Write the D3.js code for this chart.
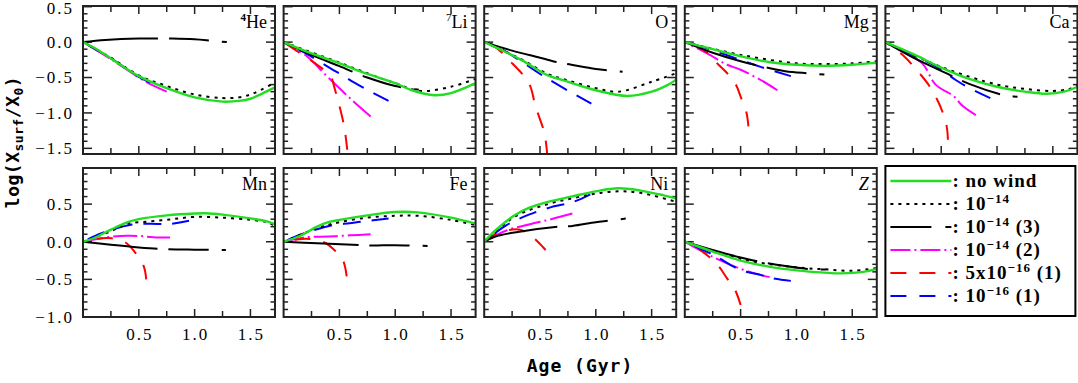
<!DOCTYPE html>
<html lang="en">
<head>
<meta charset="UTF-8">
<title>Surface abundances vs age</title>
<style>
  body { margin: 0; background: #fff; }
  svg { display: block; }
  .tick-label { font-family: "Liberation Serif", serif; font-size: 17px; letter-spacing: 2px; fill: #000; }
  .panel-label { font-family: "Liberation Serif", serif; font-size: 18px; fill: #000; }
  .axis-title { font-family: "DejaVu Sans Mono", monospace; font-weight: bold; font-size: 18px; fill: #000; }
  .legend-text { font-family: "Liberation Serif", serif; font-weight: bold; font-size: 19px; letter-spacing: 1px; fill: #000; }
  .frame { fill: none; stroke: #222; stroke-width: 2; }
</style>
</head>
<body>
<svg id="chart" width="1078" height="383"></svg>
<script src="https://cdnjs.cloudflare.com/ajax/libs/d3/7.9.0/d3.min.js"></script>
<script>
// tick values
const ageTicks = [0.5, 1.0, 1.5];
const ageMinor = [0.25, 0.5, 0.75, 1.0, 1.25, 1.5];
const topYTicks = [0.5, 0.0, -0.5, -1.0, -1.5];
const bottomYTicks = [0.5, 0.0, -0.5, -1.0];

// series keys, in drawing order
const seriesKeys = ["w14_2", "w16x5_1", "w16_1", "w14_3", "w14", "noWind"];

// [age (Gyr), log(Xsurf/X0)]
const He4 = {
  noWind: [[0,0],[0.1,-0.08],[0.25,-0.23],[0.5,-0.48],[0.75,-0.65],[1.0,-0.78],[1.25,-0.84],[1.4,-0.83],[1.5,-0.8],[1.6,-0.73],[1.72,-0.64]],
  w14: [[0,0],[0.25,-0.22],[0.5,-0.47],[0.75,-0.62],[1.0,-0.74],[1.25,-0.79],[1.4,-0.78],[1.5,-0.74],[1.6,-0.67],[1.72,-0.57]],
  w14_3: [[0,0],[0.2,0.03],[0.5,0.05],[0.8,0.05],[1.0,0.04],[1.15,0.02],[1.29,0.0]],
  w14_2: [[0,0],[0.25,-0.24],[0.5,-0.5],[0.65,-0.63],[0.75,-0.7]],
  w16_1: [[0,0],[0.25,-0.23],[0.5,-0.49],[0.6,-0.57]]
};
const Li7 = {
  noWind: [[0,0],[0.25,-0.16],[0.5,-0.3],[0.75,-0.45],[1.0,-0.58],[1.15,-0.68],[1.35,-0.75],[1.5,-0.72],[1.72,-0.58]],
  w14: [[0,0],[0.5,-0.29],[0.75,-0.44],[1.0,-0.58],[1.23,-0.69],[1.5,-0.63],[1.72,-0.52]],
  w14_3: [[0,0],[0.25,-0.18],[0.5,-0.34],[0.75,-0.5],[1.0,-0.62],[1.2,-0.67],[1.3,-0.68]],
  w14_2: [[0,0],[0.2,-0.19],[0.4,-0.5],[0.6,-0.8],[0.78,-1.05]],
  w16x5_1: [[0,0],[0.17,-0.18],[0.3,-0.32],[0.42,-0.48],[0.46,-0.67],[0.54,-1.17],[0.57,-1.52]],
  w16_1: [[0,0],[0.2,-0.16],[0.42,-0.37],[0.54,-0.48],[0.63,-0.57],[0.94,-0.83]]
};
const O16 = {
  noWind: [[0,0],[0.33,-0.25],[0.57,-0.47],[0.69,-0.53],[1.0,-0.68],[1.28,-0.76],[1.5,-0.7],[1.65,-0.6],[1.72,-0.53]],
  w14: [[0,0],[0.33,-0.24],[0.57,-0.45],[0.75,-0.54],[1.0,-0.65],[1.2,-0.7],[1.5,-0.56],[1.72,-0.44]],
  w14_3: [[0,0],[0.25,-0.12],[0.5,-0.22],[0.67,-0.29],[0.78,-0.32],[1.0,-0.38],[1.24,-0.42]],
  w16x5_1: [[0,0],[0.1,-0.07],[0.22,-0.25],[0.4,-0.58],[0.46,-0.91],[0.54,-1.29],[0.565,-1.6]],
  w16_1: [[0,0],[0.1,-0.05],[0.3,-0.24],[0.5,-0.45],[0.7,-0.64],[0.96,-0.87]]
};
const Mg = {
  noWind: [[0,0],[0.25,-0.1],[0.5,-0.2],[0.75,-0.28],[1.0,-0.32],[1.25,-0.335],[1.5,-0.32],[1.72,-0.29]],
  w14: [[0,0],[0.5,-0.18],[1.0,-0.3],[1.25,-0.31],[1.5,-0.3],[1.72,-0.27]],
  w14_3: [[0,0],[0.25,-0.15],[0.5,-0.27],[0.68,-0.34],[0.9,-0.41],[1.1,-0.44],[1.27,-0.46]],
  w14_2: [[0,0],[0.2,-0.16],[0.38,-0.32],[0.5,-0.39],[0.68,-0.535],[0.83,-0.68]],
  w16x5_1: [[0,0],[0.1,-0.05],[0.2,-0.15],[0.29,-0.3],[0.38,-0.44],[0.46,-0.61],[0.5,-0.77],[0.55,-0.98],[0.57,-1.19]],
  w16_1: [[0,0],[0.2,-0.09],[0.46,-0.23],[0.68,-0.35],[0.95,-0.48]]
};
const Ca = {
  noWind: [[0,0],[0.25,-0.17],[0.5,-0.36],[0.75,-0.52],[1.0,-0.63],[1.25,-0.7],[1.45,-0.73],[1.6,-0.7],[1.72,-0.63]],
  w14: [[0,0],[0.5,-0.35],[1.0,-0.6],[1.25,-0.66],[1.5,-0.69],[1.65,-0.66],[1.72,-0.6]],
  w14_3: [[0,0],[0.25,-0.22],[0.58,-0.465],[0.75,-0.59],[1.08,-0.756],[1.18,-0.77],[1.27,-0.79]],
  w14_2: [[0,0],[0.15,-0.13],[0.33,-0.3],[0.45,-0.6],[0.61,-0.76],[0.69,-0.9],[0.81,-1.03]],
  w16x5_1: [[0,0],[0.16,-0.19],[0.3,-0.43],[0.39,-0.61],[0.46,-0.8],[0.51,-0.98],[0.55,-1.2],[0.56,-1.38]],
  w16_1: [[0,0],[0.12,-0.09],[0.46,-0.35],[0.63,-0.535],[0.73,-0.63],[0.94,-0.79]]
};
const Mn = {
  noWind: [[0,0],[0.1,0.05],[0.25,0.16],[0.4,0.26],[0.5,0.3],[0.75,0.35],[1.0,0.375],[1.1,0.378],[1.25,0.36],[1.5,0.31],[1.65,0.27],[1.72,0.23]],
  w14: [[0,0],[0.25,0.14],[0.4,0.24],[0.6,0.27],[0.8,0.3],[1.0,0.33],[1.25,0.32],[1.5,0.29],[1.65,0.26],[1.72,0.21]],
  w14_3: [[0,0],[0.25,-0.04],[0.5,-0.075],[0.7,-0.095],[1.0,-0.105],[1.28,-0.11]],
  w14_2: [[0,0],[0.1,0.03],[0.25,0.065],[0.4,0.08],[0.52,0.075],[0.63,0.06],[0.78,0.055]],
  w16x5_1: [[0,0],[0.12,0.04],[0.26,0.045],[0.38,-0.01],[0.46,-0.13],[0.545,-0.33],[0.566,-0.5]],
  w16_1: [[0,0],[0.16,0.11],[0.44,0.23],[0.6,0.24],[0.77,0.235],[0.95,0.28]]
};
const Fe = {
  noWind: [[0,0],[0.15,0.08],[0.3,0.2],[0.4,0.26],[0.5,0.29],[0.75,0.35],[1.0,0.395],[1.2,0.39],[1.5,0.32],[1.72,0.24]],
  w14: [[0,0],[0.3,0.18],[0.5,0.26],[0.75,0.32],[1.0,0.345],[1.2,0.345],[1.5,0.29],[1.72,0.22]],
  w14_3: [[0,0],[0.3,-0.02],[0.69,-0.045],[0.8,-0.05],[1.0,-0.045],[1.29,-0.055]],
  w14_2: [[0,0],[0.2,0.06],[0.4,0.07],[0.6,0.085],[0.78,0.1]],
  w16x5_1: [[0,0],[0.12,0.03],[0.2,0.04],[0.3,0.02],[0.38,-0.02],[0.44,-0.09],[0.53,-0.24],[0.565,-0.46]],
  w16_1: [[0,0],[0.2,0.12],[0.44,0.22],[0.59,0.245],[0.69,0.265],[0.94,0.31]]
};
const Ni = {
  noWind: [[0,0],[0.1,0.15],[0.27,0.35],[0.4,0.45],[0.57,0.53],[0.78,0.6],[1.0,0.67],[1.2,0.71],[1.4,0.68],[1.6,0.62],[1.72,0.575]],
  w14: [[0,0],[0.27,0.33],[0.57,0.5],[0.8,0.58],[1.0,0.64],[1.2,0.67],[1.4,0.65],[1.72,0.53]],
  w14_3: [[0,0],[0.1,0.07],[0.3,0.13],[0.67,0.2],[0.79,0.21],[1.0,0.26],[1.12,0.28],[1.28,0.31]],
  w14_2: [[0,0],[0.2,0.15],[0.4,0.23],[0.6,0.3],[0.79,0.375]],
  w16x5_1: [[0,0],[0.1,0.1],[0.2,0.15],[0.32,0.16],[0.4,0.1],[0.48,0.0],[0.55,-0.11]],
  w16_1: [[0,0],[0.2,0.22],[0.4,0.36],[0.6,0.46],[0.8,0.53],[0.95,0.63]]
};
const Zmet = {
  noWind: [[0,0],[0.25,-0.13],[0.5,-0.25],[0.75,-0.33],[1.0,-0.38],[1.25,-0.41],[1.4,-0.42],[1.6,-0.4],[1.72,-0.36]],
  w14: [[0,0],[0.5,-0.23],[1.0,-0.34],[1.25,-0.366],[1.5,-0.385],[1.72,-0.35]],
  w14_3: [[0,0],[0.25,-0.11],[0.5,-0.21],[0.665,-0.265],[0.8,-0.3],[1.13,-0.365],[1.3,-0.37]],
  w14_2: [[0,0],[0.25,-0.2],[0.5,-0.36],[0.7,-0.45],[0.76,-0.47]],
  w16x5_1: [[0,0],[0.1,-0.07],[0.2,-0.18],[0.3,-0.32],[0.38,-0.49],[0.45,-0.64],[0.5,-0.84]],
  w16_1: [[0,0],[0.25,-0.17],[0.5,-0.375],[0.68,-0.44],[0.77,-0.48],[0.95,-0.52]]
};

const panels = [
  { sup: "4", name: "He", data: He4 },
  { sup: "7", name: "Li", data: Li7 },
  { sup: "", name: "O", data: O16 },
  { sup: "", name: "Mg", data: Mg },
  { sup: "", name: "Ca", data: Ca },
  { sup: "", name: "Mn", data: Mn },
  { sup: "", name: "Fe", data: Fe },
  { sup: "", name: "Ni", data: Ni },
  { sup: "", name: "Z", data: Zmet, italic: true }
];

const legendKeys = ["noWind", "w14", "w14_3", "w14_2", "w16x5_1", "w16_1"];
const legendLabels = [
  [["no wind", 0]],
  [["10", 0], ["−14", 1]],
  [["10", 0], ["−14", 1], [" (3)", 0]],
  [["10", 0], ["−14", 1], [" (2)", 0]],
  [["5x10", 0], ["−16", 1], [" (1)", 0]],
  [["10", 0], ["−16", 1], [" (1)", 0]]
];

// dash: pattern along the curves, legendDash: pattern in the key, endAnchored: pattern ends on a dash
const styles = {
  noWind:  { color: "#22dd22", dash: null, legendDash: null, width: 2.4 },
  w14:     { color: "#000", dash: "3,5", legendDash: "3,5", width: 2 },
  w14_3:   { color: "#000", dash: "75,11,40,13,5,13", legendDash: "41,14,6,14", width: 2 },
  w14_2:   { color: "#ff00ff", dash: "24,4,2,4", legendDash: "20,4,2,4", width: 2, endAnchored: true },
  w16x5_1: { color: "#ff0000", dash: "16,13", legendDash: "16,13", width: 2, endAnchored: true },
  w16_1:   { color: "#0000ff", dash: "18,11", legendDash: "16,13", width: 2, endAnchored: true }
};

const svg = d3.select("#chart");
const colX0 = 83, colStep = 200.6, panelW = 192;
const rows = [
  { top: 6, bottom: 154, domain: [-1.58, 0.51], ticks: topYTicks },
  { top: 168, bottom: 317, domain: [-1.0, 0.98], ticks: bottomYTicks }
];
const fmt = v => (v < 0 ? "−" : "") + Math.abs(v).toFixed(1);

panels.forEach((p, i) => {
  const r = Math.floor(i / 5), c = i % 5;
  const row = rows[r];
  const x0 = colX0 + c * colStep;
  const x = d3.scaleLinear().domain([0, 1.72]).range([x0, x0 + panelW]);
  const y = d3.scaleLinear().domain(row.domain).range([row.bottom, row.top]);
  const g = svg.append("g");

  const clipId = "clip" + i;
  svg.append("clipPath").attr("id", clipId).append("rect")
    .attr("x", x0).attr("y", row.top).attr("width", panelW).attr("height", row.bottom - row.top);

  // ticks: y every 0.1 (major every 0.5), x every 0.25, on all four sides, pointing in
  const yMinor = d3.range(Math.ceil(row.domain[0] * 10), Math.floor(row.domain[1] * 10) + 1).map(v => v / 10);
  const tickG = g.append("g").attr("stroke", "#222").attr("stroke-width", 1.5);
  yMinor.forEach(v => {
    const major = Math.abs(v * 2 - Math.round(v * 2)) < 1e-6;
    const len = major ? 9 : 4.5;
    tickG.append("line").attr("x1", x0).attr("x2", x0 + len).attr("y1", y(v)).attr("y2", y(v));
    tickG.append("line").attr("x1", x0 + panelW).attr("x2", x0 + panelW - len).attr("y1", y(v)).attr("y2", y(v));
  });
  ageMinor.forEach(v => {
    const len = ageTicks.includes(v) ? 8 : 6;
    tickG.append("line").attr("x1", x(v)).attr("x2", x(v)).attr("y1", row.bottom).attr("y2", row.bottom - len);
    tickG.append("line").attr("x1", x(v)).attr("x2", x(v)).attr("y1", row.top).attr("y2", row.top + len);
  });

  // curves
  const line = d3.line().x(d => x(d[0])).y(d => y(d[1])).curve(d3.curveCatmullRom.alpha(0.5));
  const curveG = g.append("g").attr("clip-path", `url(#${clipId})`);
  seriesKeys.forEach(k => {
    if (!p.data[k]) return;
    const s = styles[k];
    const path = curveG.append("path")
      .attr("d", line(p.data[k]))
      .attr("fill", "none")
      .attr("stroke", s.color)
      .attr("stroke-width", s.width)
      .attr("stroke-dasharray", s.dash);
    if (s.endAnchored) {
      const len = path.node().getTotalLength();
      const parts = s.dash.split(",").map(Number);
      const period = d3.sum(parts);
      path.attr("stroke-dashoffset", (parts[0] - (len % period)) - 1);
    }
  });

  g.append("rect").attr("class", "frame")
    .attr("x", x0).attr("y", row.top).attr("width", panelW).attr("height", row.bottom - row.top);

  if (c === 0) {
    row.ticks.forEach(v => {
      g.append("text").attr("class", "tick-label")
        .attr("x", 74).attr("y", Math.max(y(v), 8)).attr("dy", "0.35em")
        .attr("text-anchor", "end").text(fmt(v));
    });
  }
  if (r === 1) {
    ageTicks.forEach(v => {
      g.append("text").attr("class", "tick-label")
        .attr("x", x(v) + 1).attr("y", 340).attr("text-anchor", "middle").text(v.toFixed(1));
    });
  }

  // element label
  const lab = g.append("text").attr("class", "panel-label")
    .attr("x", x0 + panelW - 8).attr("y", row.top + 22).attr("text-anchor", "end");
  if (p.sup) {
    lab.append("tspan").attr("font-size", 11).attr("font-weight", p.sup === "4" ? "bold" : "normal")
      .attr("dy", -7).text(p.sup);
    lab.append("tspan").attr("dy", 7).text(p.name);
  } else {
    lab.append("tspan").attr("font-style", p.italic ? "italic" : "normal").text(p.name);
  }
});

// legend box
const lx0 = colX0 + 4 * colStep, ly0 = 166;
svg.append("rect").attr("x", lx0).attr("y", ly0).attr("width", 190).attr("height", 150)
  .attr("fill", "none").attr("stroke", "#000").attr("stroke-width", 2);
legendKeys.forEach((k, i) => {
  const yy = 181 + i * 23;
  const s = styles[k];
  svg.append("line").attr("x1", lx0 + 5).attr("x2", lx0 + 66).attr("y1", yy).attr("y2", yy)
    .attr("stroke", s.color).attr("stroke-width", s.width).attr("stroke-dasharray", s.legendDash);
  const t = svg.append("text").attr("class", "legend-text").attr("x", lx0 + 67).attr("y", yy + 6);
  t.append("tspan").text(": ");
  let raised = false;
  legendLabels[i].forEach(([str, sup]) => {
    if (sup) {
      t.append("tspan").attr("font-size", 13).attr("dy", -7).text(str);
      raised = true;
    } else {
      t.append("tspan").attr("dy", raised ? 7 : 0).text(str);
      raised = false;
    }
  });
});

// axis titles
svg.append("text").attr("class", "axis-title").attr("x", 580).attr("y", 372)
  .attr("text-anchor", "middle").attr("letter-spacing", 1).text("Age (Gyr)");

const yt = svg.append("text").attr("class", "axis-title")
  .attr("transform", "translate(19,142) rotate(-90)")
  .attr("text-anchor", "middle").attr("letter-spacing", 0.5);
yt.append("tspan").text("log(X");
yt.append("tspan").attr("font-size", 13).attr("dy", 4).text("surf");
yt.append("tspan").attr("dy", -4).text("/X");
yt.append("tspan").attr("font-size", 13).attr("dy", 4).text("0");
yt.append("tspan").attr("dy", -4).text(")");
</script>
</body>
</html>
